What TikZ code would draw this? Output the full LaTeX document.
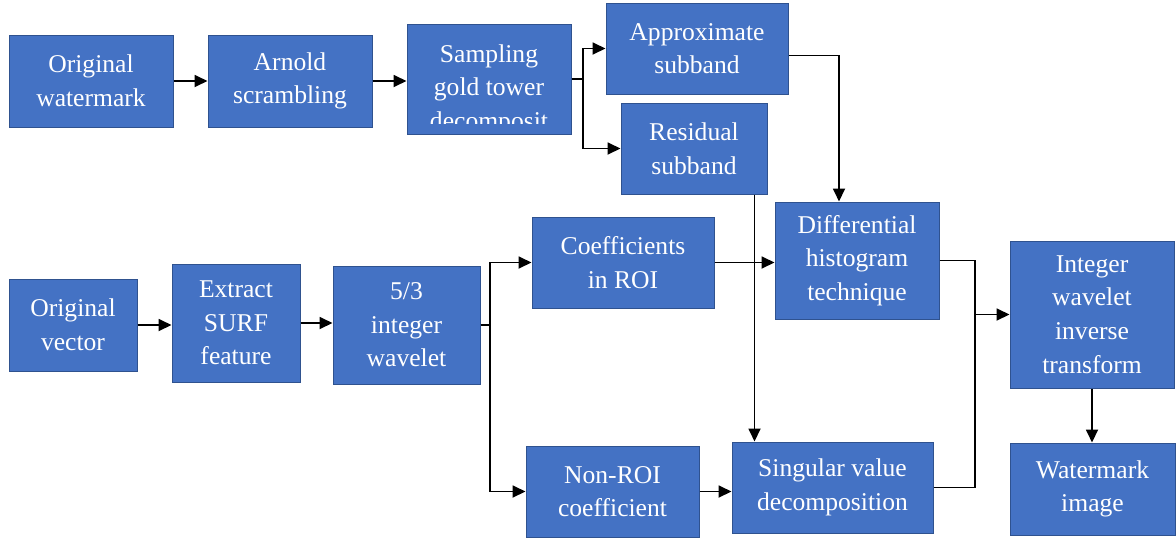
\documentclass[tikz,border=0pt]{standalone}
\usepackage{fontspec}
\setmainfont{Liberation Serif}
\usepackage{tikz}
\usetikzlibrary{
    arrows.meta,
    calc,
    positioning
}
\definecolor{boxblue}{HTML}{4472C4}
\definecolor{boxedge}{HTML}{2F528F}

\tikzset{
    blk/.style={draw=boxedge, line width=0.5pt, fill=boxblue, text=white,
        align=center, inner sep=0pt,
        font=\fontsize{12.8}{16.8}\selectfont},
    arr/.style={-{Triangle[length=6.5pt,width=6pt]}, line width=0.9pt},
    lnk/.style={line width=0.9pt}
}

\begin{document}
\begin{tikzpicture}[x=0.5pt, y=-0.5pt]

\useasboundingbox (0,0) rectangle (1176,541);

% Watermark chain
\node[blk, minimum width=82pt, minimum height=46pt] (ow) at (91,81) {Original\\watermark};
\node[blk, minimum width=82pt, minimum height=46pt] (arn) at (290,81) {Arnold\\scrambling};
\node[blk, minimum width=82pt, minimum height=55pt] (samp) at (489,79) {};
\begin{scope}
  \clip ([yshift=5.5pt]samp.south west) rectangle (samp.north east);
  \node[blk, draw=none, fill=none] (samptxt) at (489,104) {Sampling\\gold tower\\decomposit\\ion};
\end{scope}
\node[blk, minimum width=91pt, minimum height=45.5pt] (approx) at (697,48.5) {Approximate\\subband};
\node[blk, minimum width=73pt, minimum height=45.5pt] (resid) at (694,148.5) {Residual\\subband};

% Carrier chain
\node[blk, minimum width=64pt, minimum height=46pt] (ov) at (73,325) {Original\\vector};
\node[blk, minimum width=64pt, minimum height=59pt] (surf) at (236,323) {Extract\\SURF\\feature};
\node[blk, minimum width=73.5pt, minimum height=59pt] (iwt) at (406.5,325) {5/3\\integer\\wavelet};
\node[blk, minimum width=91pt, minimum height=45.5pt] (roi) at (623,262.5) {Coefficients\\in ROI};
\node[blk, minimum width=86.5pt, minimum height=45.5pt] (nonroi) at (612.5,491.5) {Non-ROI\\coefficient};
\node[blk, minimum width=82pt, minimum height=58.5pt] (diff) at (857,260.5) {Differential\\histogram\\technique};
\node[blk, minimum width=100.5pt, minimum height=45.5pt] (svd) at (832.5,487.5) {Singular value\\decomposition};
\node[blk, minimum width=82pt, minimum height=73.5pt] (iiwt) at (1092,314.5) {Integer\\wavelet\\inverse\\transform};
\node[blk, minimum width=82.5pt, minimum height=46pt] (wmi) at (1092.5,489) {Watermark\\image};

% Branch points
\coordinate (s1) at (583,79);
\coordinate (s2) at (490,325);
\coordinate (s3) at (975,314.5);

% Top row
\draw[arr] (ow.east) -- (ow.east -| arn.west);
\draw[arr] (arn.east) -- (arn.east -| samp.west);
\draw[lnk] (samp.east) -- (s1);
\draw[arr] (s1) |- (approx.west);
\draw[arr] (s1) |- (resid.west);
\draw[arr] ([yshift=-3.5pt]approx.east) -| ([xshift=-9pt]diff.north);
\draw[arr] ([xshift=-6.5pt]resid.south east) -- ([xshift=-6.5pt]resid.south east |- svd.north);

% Bottom rows
\draw[arr] (ov.east) -- (ov.east -| surf.west);
\draw[arr] (surf.east) -- (surf.east -| iwt.west);
\draw[lnk] (iwt.east) -- (s2);
\draw[arr] (s2) |- (roi.west);
\draw[arr] (s2) |- (nonroi.west);
\draw[arr] (roi.east) -- (roi.east -| diff.west);
\draw[arr] (nonroi.east) -- (nonroi.east -| svd.west);

% Merge and output
\draw[lnk] (diff.east) -| (s3);
\draw[lnk] (svd.east) -| (s3);
\draw[arr] (s3) -- (iiwt.west);
\draw[arr] (iiwt.south) -- (iiwt.south |- wmi.north);

\end{tikzpicture}
\end{document}
